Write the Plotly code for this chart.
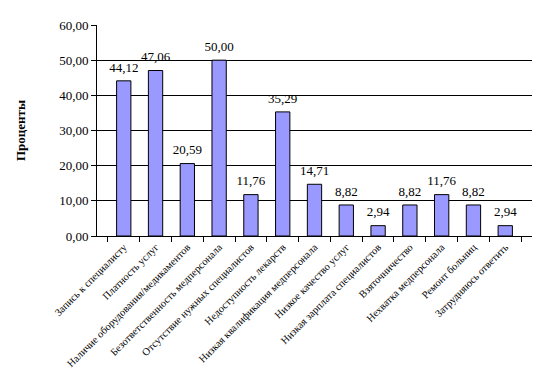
import plotly.graph_objects as go

categories = [
    "Запись к специалисту",
    "Платность услуг",
    "Наличие оборудования/медикаментов",
    "Безответственность медперсонала",
    "Отсутствие нужных специалистов",
    "Недоступность лекарств",
    "Низкая квалификация медперсонала",
    "Низкое качество услуг",
    "Низкая зарплата специалистов",
    "Взяточничество",
    "Нехватка медперсонала",
    "Ремонт больниц",
    "Затрудняюсь ответить",
]
values = [44.12, 47.06, 20.59, 50.00, 11.76, 35.29, 14.71, 8.82, 2.94, 8.82, 11.76, 8.82, 2.94]
y_ticks = [0, 10, 20, 30, 40, 50, 60]

fig = go.Figure()
fig.add_trace(go.Bar(
    x=categories,
    y=values,
    marker=dict(color="#9999FF", line=dict(color="black", width=1)),
    hoverinfo="skip",
))
fig.add_trace(go.Scatter(
    x=categories,
    y=values,
    mode="markers+text",
    marker=dict(size=8, opacity=0),
    texttemplate="%{y:.2f}",
    textposition="top center",
    textfont=dict(family="Liberation Serif", size=13, color="black"),
    cliponaxis=False,
))

fig.update_layout(
    width=546, height=378,
    margin=dict(l=89, r=22, t=17, b=150),
    paper_bgcolor="white", plot_bgcolor="white",
    separators=", ",
    bargap=0.55,
    showlegend=False,
    font=dict(family="Liberation Serif", color="black"),
)
fig.update_yaxes(
    range=[0, 60], tickvals=y_ticks, tickformat=".2f",
    showgrid=True, gridcolor="black", gridwidth=1,
    showline=True, linecolor="black", linewidth=1,
    ticks="outside", ticklen=5, tickcolor="black",
    tickfont=dict(family="Liberation Serif", size=13, color="black"),
    title=dict(text="<b>Проценты</b>", font=dict(family="Liberation Serif", size=13), standoff=30),
    zeroline=False,
    automargin=False,
)
fig.update_xaxes(
    tickangle=-45,
    showline=True, linecolor="black", linewidth=1,
    ticks="outside", ticklen=5, tickcolor="black",
    tickson="boundaries",
    tickfont=dict(family="Liberation Serif", size=10.5, color="black"),
    showgrid=False,
    automargin=False,
)
fig.write_html("out.html")
